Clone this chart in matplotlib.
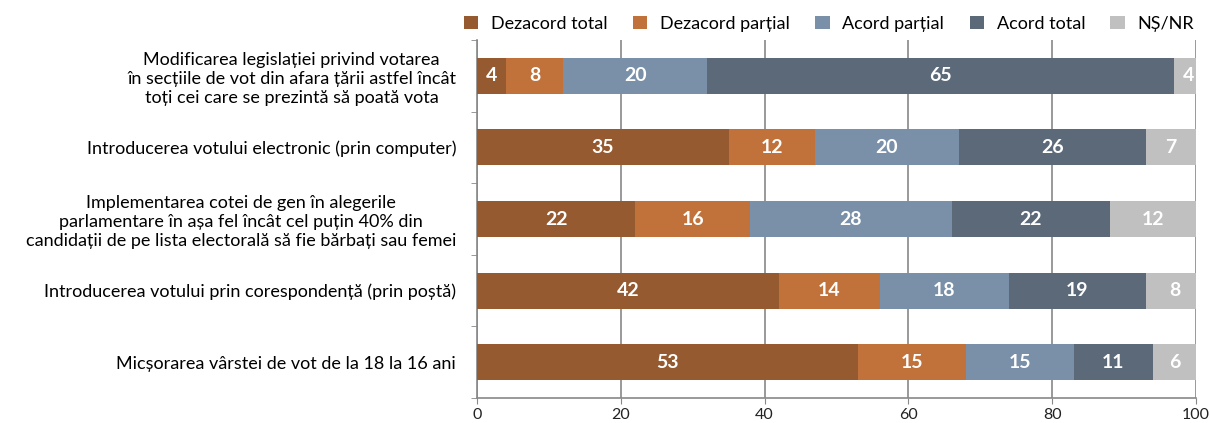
import matplotlib.pyplot as plt
import numpy as np

plt.rcParams['font.family'] = ['Lato', 'DejaVu Sans']

categories = [
    "Modificarea legislației privind votarea\nîn secțiile de vot din afara țării astfel încât\ntoți cei care se prezintă să poată vota",
    "Introducerea votului electronic (prin computer)",
    "Implementarea cotei de gen în alegerile\nparlamentare în așa fel încât cel puțin 40% din\ncandidații de pe lista electorală să fie bărbați sau femei",
    "Introducerea votului prin corespondență (prin poștă)",
    "Micșorarea vârstei de vot de la 18 la 16 ani",
]
series_names = ["Dezacord total", "Dezacord parțial", "Acord parțial", "Acord total", "NȘ/NR"]
dezacord_total = [4, 35, 22, 42, 53]
dezacord_partial = [8, 12, 16, 14, 15]
acord_partial = [20, 20, 28, 18, 15]
acord_total = [65, 26, 22, 19, 11]
ns_nr = [4, 7, 12, 8, 6]

colors = ['#955a2f', '#c1723b', '#7990a8', '#5b6979', '#c0c0c0']
series = [dezacord_total, dezacord_partial, acord_partial, acord_total, ns_nr]

fig = plt.figure(figsize=(12.1, 4.23), dpi=100)
ax = fig.add_axes([477 / 1210, 1 - 398 / 423, (1196 - 477) / 1210, 358 / 423])

y = np.arange(len(categories))
left = np.zeros(len(categories))
for name, vals, col in zip(series_names, series, colors):
    vals = np.array(vals, dtype=float)
    ax.barh(y, vals, left=left, height=0.5, color=col, label=name, zorder=3)
    for yi, l, v in zip(y, left, vals):
        ax.text(l + v / 2, yi, f"{int(v)}", ha='center', va='center',
                color='white', fontsize=14, fontweight='bold', zorder=4)
    left += vals

ax.set_xlim(0, 100)
ax.set_ylim(len(categories) - 0.5, -0.5)
ax.set_xticks([0, 20, 40, 60, 80, 100])
ax.set_yticks(y)
ax.set_yticklabels(categories, fontsize=13, multialignment='center', linespacing=1.25)
ax.set_yticks(np.arange(-0.5, len(categories), 1), minor=True)
ax.tick_params(axis='y', which='major', length=0, pad=15)
ax.tick_params(axis='y', which='minor', length=4, color='#888888')
ax.tick_params(axis='x', length=4, color='#888888', labelsize=11.5, labelcolor='#222222', pad=3)
ax.grid(axis='x', color='#888888', linewidth=1.2, zorder=0)
for s in ['top', 'right']:
    ax.spines[s].set_visible(False)
for s in ['left', 'bottom']:
    ax.spines[s].set_color('#888888')
    ax.spines[s].set_linewidth(1.2)

ax.legend(loc='lower right', bbox_to_anchor=(1.0, 1.018), ncol=5, frameon=False,
          fontsize=13, handlelength=0.8, handleheight=0.8, columnspacing=1.4,
          handletextpad=0.7, borderaxespad=0.0, borderpad=0.1)

fig.savefig('out.png', dpi=100)
